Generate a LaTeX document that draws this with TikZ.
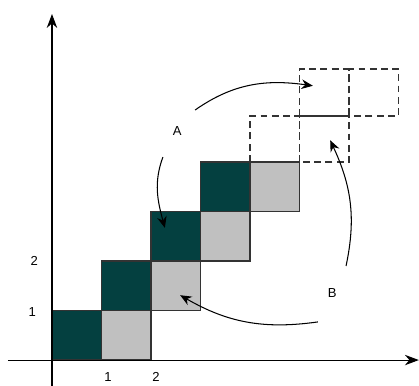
\documentclass[tikz,border=0pt]{standalone}
\usepackage{fontspec}
\setmainfont{Liberation Sans}
\usepackage{tikz}
\usetikzlibrary{arrows.meta,positioning}
\definecolor{tealdark}{RGB}{4,64,64}
\definecolor{cellgray}{RGB}{192,192,192}

\begin{document}
\begin{tikzpicture}[x=1cm,y=1cm,
    axis/.style={line width=0.6pt,-{Stealth[length=8pt,width=6pt]}},
    darkcell/.style={draw=black!80,line width=0.8pt,fill=tealdark},
    graycell/.style={draw=black!80,line width=0.8pt,fill=cellgray},
    ghostcell/.style={draw=black!80,line width=0.7pt,dash pattern=on 4pt off 2.5pt},
    move/.style={line width=0.6pt,-{Stealth[length=6.5pt,width=5.5pt]}},
    lbl/.style={font=\fontsize{7.5}{9}\selectfont,inner sep=0pt}]
  \useasboundingbox (-1.05,-0.505) rectangle (7.414,7.273);

  % cells on the diagonal
  \foreach \i in {0,...,3} {
    \draw[darkcell] (\i,\i) rectangle ++(1,1);
    \draw[graycell] (\i+1,\i) rectangle ++(1,1);
  }
  % dashed cells
  \draw[ghostcell] (4,4) rectangle (5,4.93);
  \draw[ghostcell] (5,4) rectangle (6,4.93);
  \draw[ghostcell] (5,4.93) rectangle (6,5.88);
  \draw[ghostcell] (6,4.93) rectangle (7,5.88);

  % axes
  \coordinate (xfrom) at (-0.89,0);
  \coordinate (xto) at (7.41,0);
  \coordinate (yfrom) at (0,-0.6);
  \coordinate (yto) at (0,6.99);
  \draw[axis] (xfrom) -- (xto);
  \draw[axis] (yfrom) -- (yto);

  % tick labels
  \node[lbl] (y1) at (-0.40,0.97) {1};
  \node[lbl] (y2) at (-0.36,2.0) {2};
  \node[lbl] (x1) at (1.13,-0.34) {1};
  \node[lbl] (x2) at (2.1,-0.34) {2};

  % labels
  \node[lbl] (labA) at (2.53,4.63) {A};
  \node[lbl] (labB) at (5.66,1.35) {B};

  % moves
  \coordinate (a1s) at (2.89,5.05);
  \coordinate (a1e) at (5.27,5.54);
  \coordinate (a2s) at (2.24,4.10);
  \coordinate (a2e) at (2.28,2.67);
  \coordinate (b1s) at (5.94,1.90);
  \coordinate (b1e) at (5.62,4.44);
  \coordinate (b2s) at (5.37,0.77);
  \coordinate (b2e) at (2.59,1.31);
  \draw[move] (a1s) to[out=35,in=172] (a1e);
  \draw[move] (a2s) to[out=250,in=105] (a2e);
  \draw[move] (b1s) to[out=78,in=295] (b1e);
  \draw[move] (b2s) to[out=188,in=330] (b2e);
\end{tikzpicture}
\end{document}
